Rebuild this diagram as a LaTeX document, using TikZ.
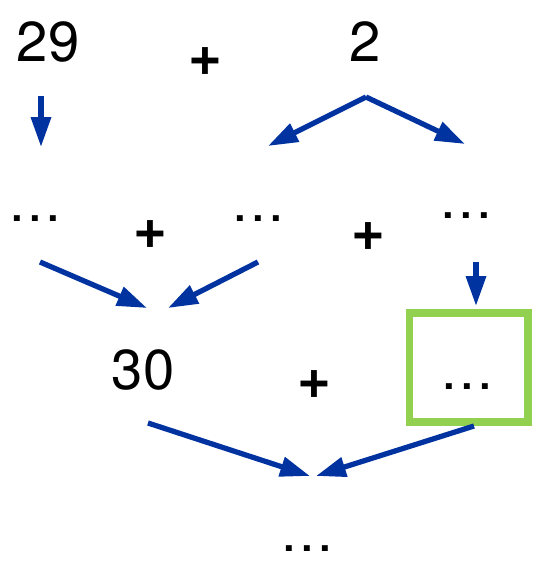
\documentclass[tikz,border=0pt]{standalone}
\usepackage{fontspec}
\setmainfont{TeX Gyre Heros}
\usepackage{xcolor}
\usetikzlibrary{arrows.meta}
\definecolor{sumBlue}{HTML}{0033A0}
\definecolor{sumGreen}{HTML}{92D050}
\newcommand{\spdots}{.\kern1.4pt.\kern1.4pt.}

\begin{document}
\begin{tikzpicture}[
  x=0.02cm, y=-0.02cm,
  num/.style={inner sep=0pt, font=\fontsize{32}{38}\selectfont},
  op/.style={inner sep=0pt, font=\fontsize{33}{38}\selectfont\bfseries},
  hl/.style={draw=sumGreen, line width=4pt, minimum width=2.38cm,
    minimum height=2.18cm, inner sep=0pt},
  arr/.style={-{Triangle[length=17pt,width=11pt]}, line width=3pt, sumBlue}
]
\useasboundingbox (0,0) rectangle (559,567);
% top row
\node[num] (n29) at (48,42) {29};
\node[op] (plusA) at (205,62) {+};
\node[num] (n2) at (365,42) {2};
% middle row
\node[num] (dA) at (35,219) {\spdots};
\node[op] (plusB) at (150,235) {+};
\node[num] (dB) at (258,219) {\spdots};
\node[op] (plusC) at (368,237) {+};
\node[num] (dC) at (466,216) {\spdots};
% lower row
\node[num] (n30) at (143,370) {30};
\node[op] (plusD) at (314,385) {+};
\node[hl] (box) at (468.5,367.5) {};
\node[num] (dD) at (467,387) {\spdots};
% result
\node[num] (dE) at (307,549) {\spdots};
% arrow ends
\coordinate (s29) at (41,96);
\coordinate (e29) at (41,147);
\coordinate (split) at (366,97);
\coordinate (eL) at (268,146);
\coordinate (eR) at (465,144);
\coordinate (sA) at (40,262);
\coordinate (sB) at (258,262);
\coordinate (sC) at (476,262);
\coordinate (join1) at (147,308);
\coordinate (join2) at (168,308);
\coordinate (s30) at (148,423);
\coordinate (sBox) at (474,426);
\coordinate (fin1) at (310,476);
\coordinate (fin2) at (316,476);
\draw[arr] (s29) -- (e29);
\draw[arr] (split) -- (eL);
\draw[arr] (split) -- (eR);
\draw[arr] (sA) -- (join1);
\draw[arr] (sB) -- (join2);
\draw[arr] (sC) -- ([yshift=2pt]box.north -| sC);
\draw[arr] (s30) -- (fin1);
\draw[arr] (sBox) -- (fin2);
\end{tikzpicture}
\end{document}
